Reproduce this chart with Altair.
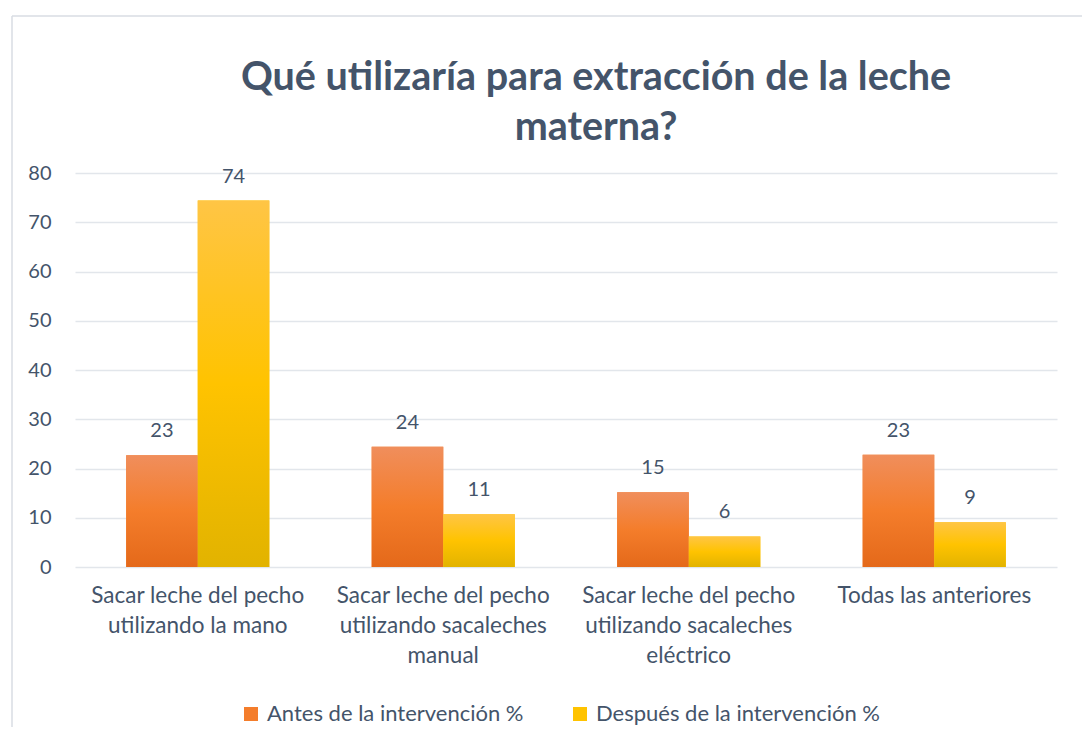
import altair as alt
import pandas as pd

categories = [
    "Sacar leche del pecho\nutilizando la mano",
    "Sacar leche del pecho\nutilizando sacaleches\nmanual",
    "Sacar leche del pecho\nutilizando sacaleches\neléctrico",
    "Todas las anteriores",
]
series = ["Antes de la intervención %", "Después de la intervención %"]
antes = [22.7, 24.4, 15.2, 22.8]
despues = [74.4, 10.7, 6.2, 9.1]
y_ticks = [0, 10, 20, 30, 40, 50, 60, 70, 80]
title_lines = ["Qué utilizaría para extracción de la leche", "materna?"]

rows = []
for i, c in enumerate(categories):
    rows.append({"cat": c, "serie": series[0], "valor": antes[i]})
    rows.append({"cat": c, "serie": series[1], "valor": despues[i]})
df = pd.DataFrame(rows)

FONT = "Lato"
TXT = "#44546A"

grad_orange = alt.Gradient(
    gradient="linear", x1=0, x2=0, y1=0, y2=1,
    stops=[alt.GradientStop(color="#F08E5C", offset=0),
           alt.GradientStop(color="#F47D2B", offset=0.5),
           alt.GradientStop(color="#E4691A", offset=1)],
)
grad_yellow = alt.Gradient(
    gradient="linear", x1=0, x2=0, y1=0, y2=1,
    stops=[alt.GradientStop(color="#FFC545", offset=0),
           alt.GradientStop(color="#FFC300", offset=0.5),
           alt.GradientStop(color="#E2B300", offset=1)],
)

x_enc = alt.X(
    "cat:N", sort=categories,
    scale=alt.Scale(paddingInner=0.417, paddingOuter=0.2085),
    axis=alt.Axis(title=None, labelAngle=0, labelExpr="split(datum.label, '\\n')",
                  labelFont=FONT, labelFontSize=22.5, labelColor=TXT, labelLineHeight=30,
                  labelPadding=17, domain=False, ticks=False, grid=False, labelLimit=400),
)
xo_enc = alt.XOffset("serie:N", sort=series)
y_enc = alt.Y(
    "valor:Q", scale=alt.Scale(domain=[0, 80]),
    axis=alt.Axis(values=y_ticks, title=None, domain=False, ticks=False,
                  gridColor="#E2E6EB", gridWidth=1.6, labelFont=FONT, labelFontSize=20,
                  labelColor=TXT, labelPadding=24),
)

base = alt.Chart(df).encode(x=x_enc, xOffset=xo_enc, y=y_enc)

legend_bars = base.mark_bar().encode(
    color=alt.Color(
        "serie:N", sort=series,
        scale=alt.Scale(domain=series, range=["#F47D2B", "#FFC300"]),
        legend=alt.Legend(title=None, orient="none", legendX=165, legendY=530,
                          direction="horizontal", symbolType="square", symbolSize=196,
                          symbolStrokeWidth=0, labelFont=FONT, labelFontSize=22,
                          labelColor=TXT, columnPadding=45, labelOffset=5, labelLimit=400),
    )
)
bars_a = base.mark_bar(color=grad_orange).transform_filter(alt.datum.serie == series[0])
bars_d = base.mark_bar(color=grad_yellow).transform_filter(alt.datum.serie == series[1])
labels = base.mark_text(font=FONT, fontSize=20, color=TXT, baseline="alphabetic", dy=-18).encode(
    text=alt.Text("valor:Q", format=".0f")
)

title_mark = alt.Chart(df.head(1)).mark_text(
    text=title_lines, font=FONT, fontSize=39.5, fontWeight="bold", color=TXT,
    lineHeight=50, align="center", baseline="alphabetic",
).encode(x=alt.value(521), y=alt.value(-83))

frame_left = alt.Chart(df.head(1)).mark_rule(color="#D9DDE3", strokeWidth=1.5).encode(
    x=alt.value(-63), y=alt.value(-157), y2=alt.value(600)
)
frame_top = alt.Chart(df.head(1)).mark_rule(color="#D9DDE3", strokeWidth=1.5).encode(
    x=alt.value(-63), x2=alt.value(1100), y=alt.value(-157)
)

chart = alt.layer(legend_bars, bars_a, bars_d, labels, title_mark, frame_left, frame_top).properties(
    width=982, height=394, background="white",
    padding={"left": 67, "top": 165, "right": 25, "bottom": 160},
    autosize=alt.AutoSizeParams(type="none"),
).configure_view(stroke="transparent", strokeWidth=0)

chart.save("out.html", embed_options={"renderer": "svg", "actions": False})
